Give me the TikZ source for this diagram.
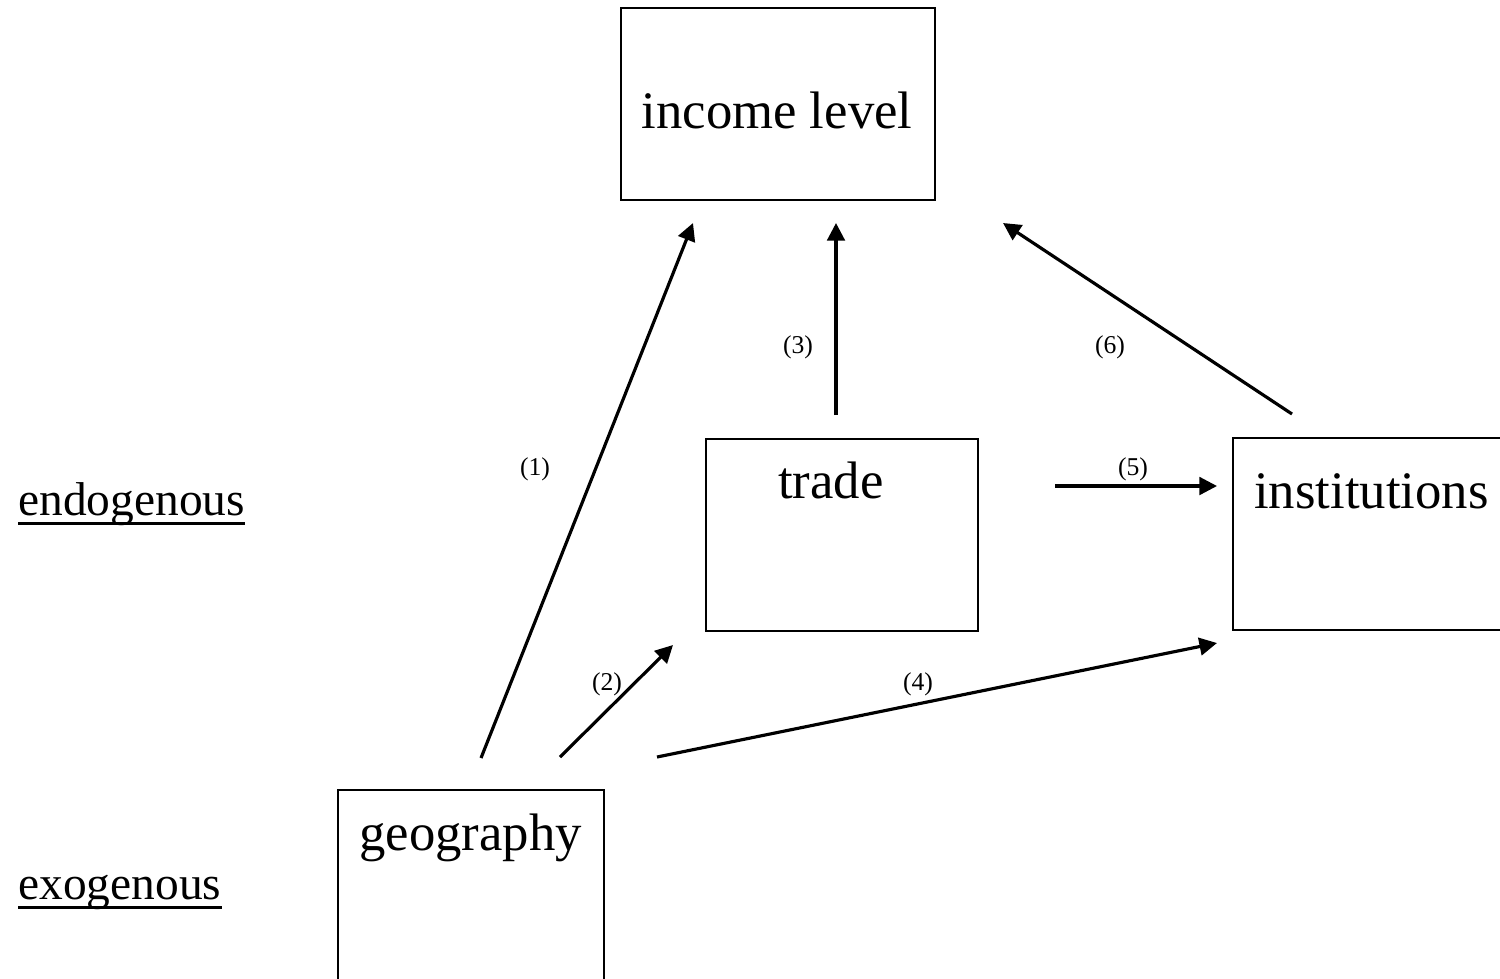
\documentclass[tikz,border=0pt]{standalone}
\usepackage{fontspec}
\setmainfont{Liberation Serif}
\usetikzlibrary{arrows.meta}
\tikzset{
  box/.style={draw, line width=1.1pt, inner sep=0pt, anchor=north west},
  boxtext/.style={font=\fontsize{30}{33}\selectfont, anchor=base, inner sep=0pt},
  sidetext/.style={font=\fontsize{27}{30}\selectfont, anchor=base west, inner sep=0pt},
  uline/.style={line width=1.5pt},
  numlabel/.style={font=\fontsize{14.6}{16}\selectfont, anchor=base, inner sep=0pt},
  conn/.style={line width=1.8pt, -{Triangle[length=10pt,width=10pt]}}
}
\begin{document}
\begin{tikzpicture}
\useasboundingbox (0,0) rectangle (30,-19.56);
\clip (0,0) rectangle (30,-19.56);
% boxes
\node[box, minimum width=6.28cm, minimum height=3.84cm] (income) at (12.4,-0.14) {};
\node[box, minimum width=5.44cm, minimum height=3.84cm] (trade) at (14.1,-8.76) {};
\node[box, minimum width=6.0cm, minimum height=3.84cm] (inst) at (24.64,-8.74) {};
\node[box, minimum width=5.32cm, minimum height=4.5cm] (geo) at (6.74,-15.78) {};
% box texts
\node[boxtext] (incomeT) at (15.54,-2.56) {income level};
\node[boxtext] (tradeT) at (16.62,-9.96) {trade};
\node[boxtext] (instT) at (27.43,-10.16) {institutions};
\node[boxtext] (geoT) at (9.41,-17.0) {geography};
% side texts
\node[sidetext] (endo) at (0.36,-10.3) {endogenous};
\node[sidetext] (exo) at (0.36,-17.98) {exogenous};
\draw[uline] ([yshift=-5pt]endo.base west) -- ([yshift=-5pt]endo.base east);
\draw[uline] ([yshift=-5pt]exo.base west) -- ([yshift=-5pt]exo.base east);
% arrow end points
\coordinate (a1s) at (9.62,-15.16);  \coordinate (a1e) at (13.86,-4.46);
\coordinate (a2s) at (11.2,-15.14);  \coordinate (a2e) at (13.46,-12.9);
\coordinate (a3s) at (16.72,-8.3);   \coordinate (a3e) at (16.72,-4.46);
\coordinate (a4s) at (13.14,-15.14); \coordinate (a4e) at (24.34,-12.86);
\coordinate (a5s) at (21.1,-9.72);   \coordinate (a5e) at (24.34,-9.72);
\coordinate (a6s) at (25.84,-8.28);  \coordinate (a6e) at (20.06,-4.46);
\draw[conn] (a1s) -- (a1e);
\draw[conn] (a2s) -- (a2e);
\draw[conn] (a3s) -- (a3e);
\draw[conn] (a4s) -- (a4e);
\draw[conn] (a5s) -- (a5e);
\draw[conn] (a6s) -- (a6e);
% labels
\node[numlabel] (l1) at (10.7,-9.5) {(1)};
\node[numlabel] (l2) at (12.14,-13.8) {(2)};
\node[numlabel] (l3) at (15.96,-7.06) {(3)};
\node[numlabel] (l4) at (18.36,-13.8) {(4)};
\node[numlabel] (l5) at (22.66,-9.5) {(5)};
\node[numlabel] (l6) at (22.2,-7.06) {(6)};
\end{tikzpicture}
\end{document}
